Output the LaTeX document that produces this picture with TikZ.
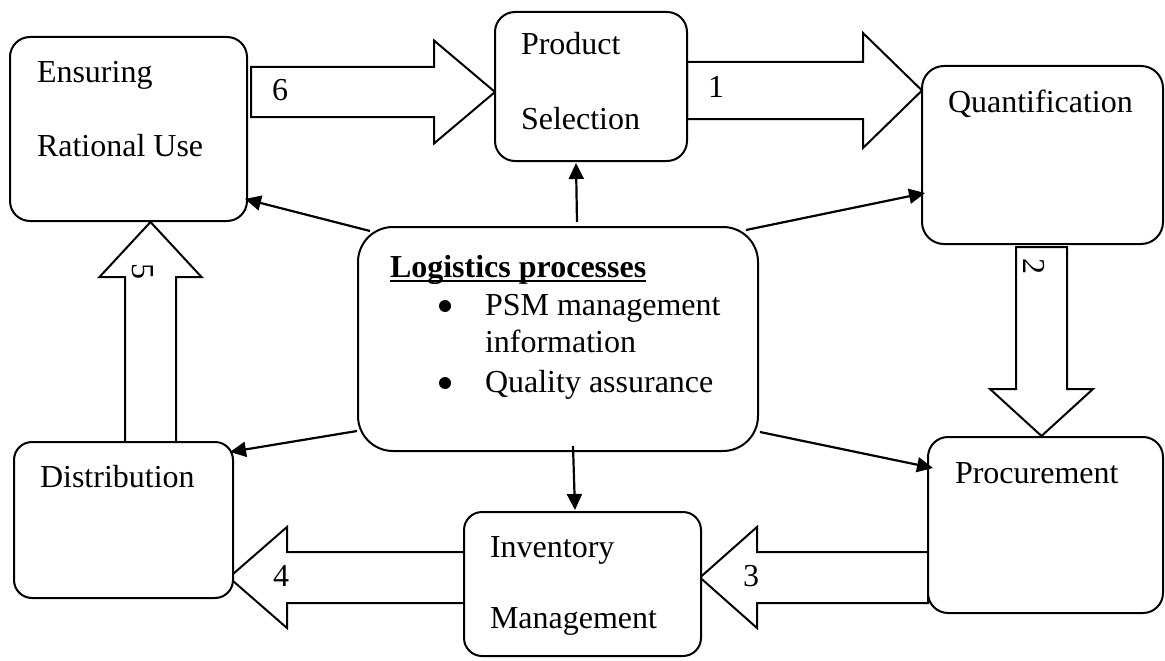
\documentclass[tikz,border=0pt]{standalone}
\usepackage{fontspec}
\setmainfont{Liberation Serif}
\usetikzlibrary{arrows.meta,calc,backgrounds}

% Block arrow: name, tail point, tip point, half shaft width, half head width, head length
\newcommand\blockarr[6]{%
  \coordinate (#1-h) at ($(#3)!#6pt!(#2)$);
  \draw[blockarrow] ($(#2)!#4pt!90:(#3)$) -- ($(#1-h)!#4pt!90:(#3)$)
    -- ($(#1-h)!#5pt!90:(#3)$) -- (#3) -- ($(#1-h)!#5pt!-90:(#3)$)
    -- ($(#1-h)!#4pt!-90:(#3)$) -- ($(#2)!#4pt!-90:(#3)$) -- cycle;}

\begin{document}
\begin{tikzpicture}[x=1pt,y=-1pt,
  box/.style={draw, line width=2pt, rounded corners=20pt, fill=white,
    inner sep=0pt, outer sep=0pt},
  txt/.style={inner sep=0pt, outer sep=0pt, anchor=base west,
    font=\fontsize{32}{38}\selectfont},
  num/.style={inner sep=0pt, outer sep=0pt, font=\fontsize{32}{38}\selectfont},
  link/.style={line width=2.2pt, -{Triangle[length=16pt,width=15pt]}},
  blockarrow/.style={draw, line width=2pt, fill=white, line join=miter}]
\useasboundingbox (0,0) rectangle (1165,661);

% process boxes
\node[box, minimum width=237pt, minimum height=184pt] (ens) at (128.5,129) {};
\node[box, minimum width=192pt, minimum height=149pt] (prod) at (591,86.5) {};
\node[box, minimum width=241pt, minimum height=178pt, rounded corners=22pt] (quant) at (1042.5,155) {};
\node[box, minimum width=400pt, minimum height=224pt, rounded corners=35pt] (ctr) at (558,339) {};
\node[box, minimum width=219pt, minimum height=156pt, rounded corners=18pt] (dist) at (123.5,520) {};
\node[box, minimum width=237pt, minimum height=144pt, rounded corners=18pt] (inv) at (582.5,584) {};
\node[box, minimum width=235pt, minimum height=176pt] (proc) at (1045.5,525) {};

% box texts
\node[txt] (tens1) at (37,83) {Ensuring};
\node[txt] (tens2) at (37,156) {Rational Use};
\node[txt] (tprod1) at (521,55) {Product};
\node[txt] (tprod2) at (521,129) {Selection};
\node[txt] (tquant) at (948,112) {Quantification};
\node[txt] (tdist) at (40,487) {Distribution};
\node[txt] (tinv1) at (490,557) {Inventory};
\node[txt] (tinv2) at (490,628) {Management};
\node[txt] (tproc) at (955,483) {Procurement};

% central box contents
\node[txt, font=\fontsize{32}{38}\selectfont\bfseries] (tlog) at (390,277) {Logistics processes};
\draw[line width=2.4pt] ([yshift=-4pt]tlog.base west) -- ([yshift=-4pt]tlog.base east);
\fill (445,306) circle (6);
\node[txt] (tpsm1) at (485,315) {PSM management};
\node[txt] (tpsm2) at (485,352) {information};
\fill (445,383) circle (6);
\node[txt] (tqa) at (485,392) {Quality assurance};

% cycle block arrows
\begin{scope}[on background layer]
  \coordinate (a6s) at ([shift={(4,-37)}]ens.east);
  \coordinate (a6e) at ([shift={(0,5.5)}]prod.west);
  \blockarr{a6}{a6s}{a6e}{25}{51.5}{61}
  \coordinate (a1s) at ([shift={(0,4)}]prod.east);
  \coordinate (a1e) at ([shift={(0,-64.5)}]quant.west);
  \blockarr{a1}{a1s}{a1e}{28.5}{57.5}{59}
  \coordinate (a2s) at ([shift={(-1,3)}]quant.south);
  \coordinate (a2e) at ([shift={(-4,-1)}]proc.north);
  \blockarr{a2}{a2s}{a2e}{25.5}{51.5}{47}
  \coordinate (a3s) at ([shift={(0,52.5)}]proc.west);
  \coordinate (a3e) at ([shift={(-1,-6.5)}]inv.east);
  \blockarr{a3}{a3s}{a3e}{25.5}{50.5}{57}
  \coordinate (a4s) at ([shift={(0,-6.5)}]inv.west);
  \coordinate (a4e) at ([shift={(-4,57.5)}]dist.east);
  \blockarr{a4}{a4s}{a4e}{25.5}{50.5}{58}
  \coordinate (a5s) at ([shift={(27,3)}]dist.north);
  \coordinate (a5e) at ([shift={(22,1)}]ens.south);
  \blockarr{a5}{a5s}{a5e}{25.5}{51}{55}
\end{scope}

% step numbers
\node[num, anchor=base] (n6) at (280,100) {6};
\node[num, anchor=base] (n1) at (716,97) {1};
\node[num, rotate=-90] (n2) at (1034,266) {2};
\node[num, anchor=base] (n3) at (751,586) {3};
\node[num, anchor=base] (n4) at (281,586) {4};
\node[num, rotate=-90] (n5) at (143,271) {5};

% links from the central box
\draw[link] ([shift={(19,-5)}]ctr.north) -- ([shift={(-15,2)}]prod.south);
\draw[link] ([shift={(12,4)}]ctr.north west) -- ([shift={(-2,70)}]ens.east);
\draw[link] ([shift={(-12,3)}]ctr.north east) -- ([shift={(3,38)}]quant.west);
\draw[link] ([shift={(-1,-20)}]ctr.south west) -- ([shift={(-3,10)}]dist.north east);
\draw[link] ([shift={(15,-5)}]ctr.south) -- ([shift={(-7.5,-2)}]inv.north);
\draw[link] ([shift={(2,-19)}]ctr.south east) -- ([shift={(5,31)}]proc.north west);
\end{tikzpicture}
\end{document}
